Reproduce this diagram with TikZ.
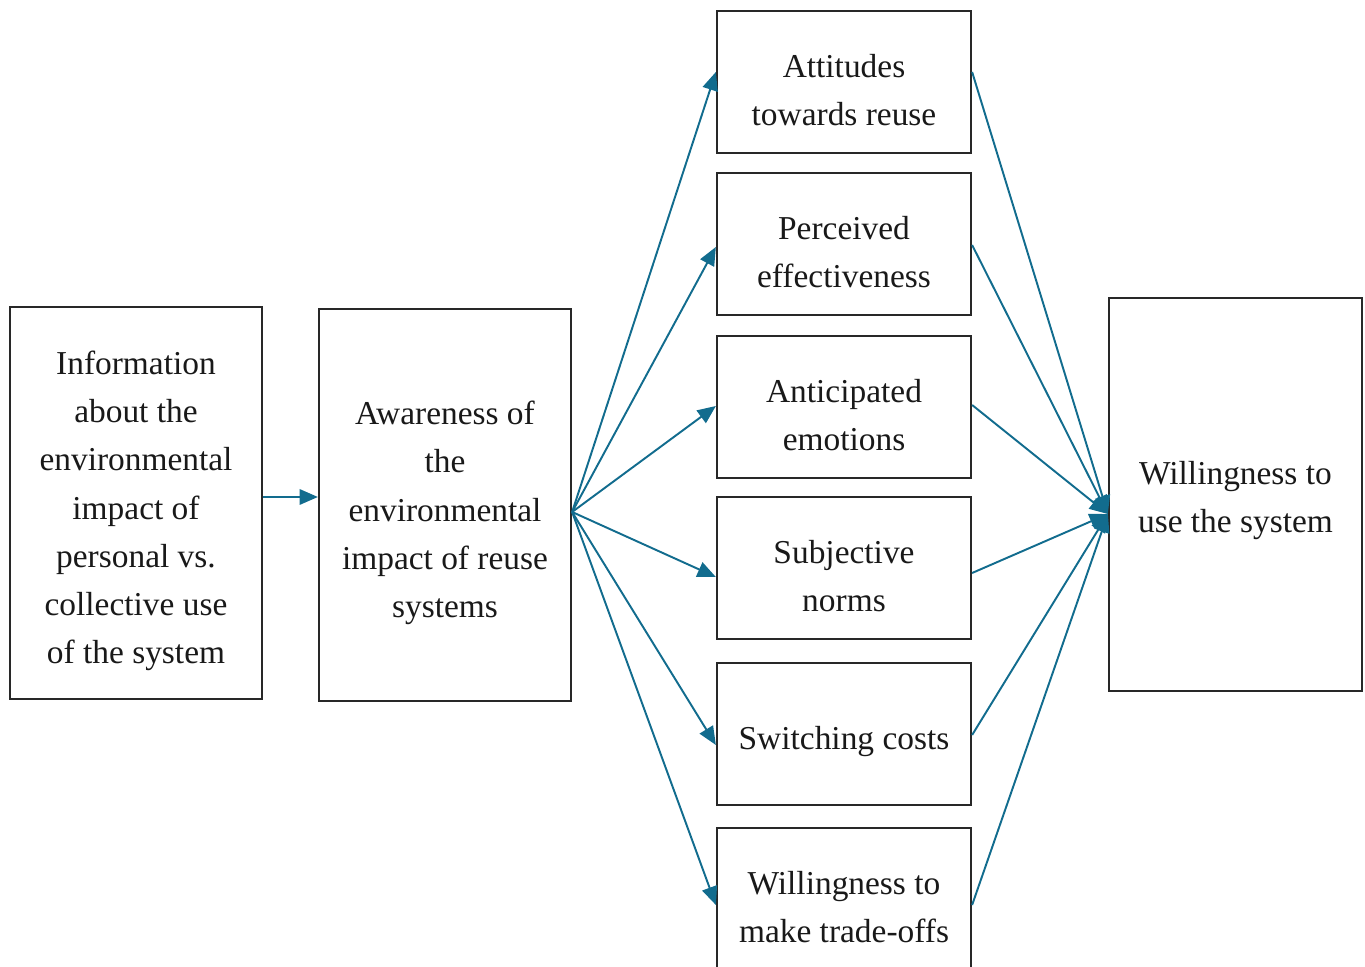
\documentclass[tikz,border=0pt]{standalone}
\usepackage{fontspec}
\setmainfont{Liberation Serif}
\usetikzlibrary{arrows.meta}
\definecolor{arr}{RGB}{18,108,142}
\definecolor{frame}{RGB}{40,40,40}
\begin{document}
\begin{tikzpicture}[x=0.01cm,y=-0.01cm,
  box/.style={draw=frame, line width=0.6pt, fill=white, inner sep=0pt},
  tall/.style={box, minimum width=2.52cm, minimum height=3.92cm},
  mid/.style={box, minimum width=2.54cm, minimum height=1.42cm},
  lbl/.style={align=center, inner sep=0pt, yshift=-0.08cm,
    font=\fontsize{9.5}{13.7}\selectfont, text=black!90},
  link/.style={draw=arr, line width=0.55pt, -{Triangle[length=5.2pt,width=4.4pt]}}]
\useasboundingbox (0,0) rectangle (1365,967);
\node[tall] (info) at (136,503) {};
\node[tall] (aware) at (445,505) {};
\node[mid] (att) at (844,82) {};
\node[mid] (eff) at (844,244) {};
\node[mid] (emo) at (844,407) {};
\node[mid] (norm) at (844,568) {};
\node[mid] (cost) at (844,734) {};
\node[mid] (trade) at (844,899) {};
\node[box, minimum width=2.53cm, minimum height=3.93cm] (will) at (1235.5,494.5) {};
\node[lbl] (info-t) at (info) {Information\\about the\\environmental\\impact of\\personal vs.\\collective use\\of the system};
\node[lbl] (aware-t) at (aware) {Awareness of\\the\\environmental\\impact of reuse\\systems};
\node[lbl] (att-t) at (att) {Attitudes\\towards reuse};
\node[lbl] (eff-t) at (eff) {Perceived\\effectiveness};
\node[lbl] (emo-t) at (emo) {Anticipated\\emotions};
\node[lbl] (norm-t) at (norm) {Subjective\\norms};
\node[lbl] (cost-t) at (cost) {Switching costs};
\node[lbl] (trade-t) at (trade) {Willingness to\\make trade-offs};
\node[lbl, yshift=0.02cm] (will-t) at (will) {Willingness to\\use the system};
\coordinate (src) at (aware.east |- 0,512);
\coordinate (dst) at (will.west |- 0,514);
\draw[link] (info.east |- 0,497) -- (aware.west |- 0,497);
\draw[link] (src) -- (att.west |- 0,72);
\draw[link] (src) -- (eff.west |- 0,247);
\draw[link] (src) -- (emo.west |- 0,406);
\draw[link] (src) -- (norm.west |- 0,577);
\draw[link] (src) -- (cost.west |- 0,745);
\draw[link] (src) -- (trade.west |- 0,905);
\draw[link] (att.east |- 0,72) -- (dst);
\draw[link] (eff.east |- 0,245) -- (dst);
\draw[link] (emo.east |- 0,405) -- (dst);
\draw[link] (norm.east |- 0,573) -- (dst);
\draw[link] (cost.east |- 0,735) -- (dst);
\draw[link] (trade.east |- 0,905) -- (dst);
\end{tikzpicture}
\end{document}
